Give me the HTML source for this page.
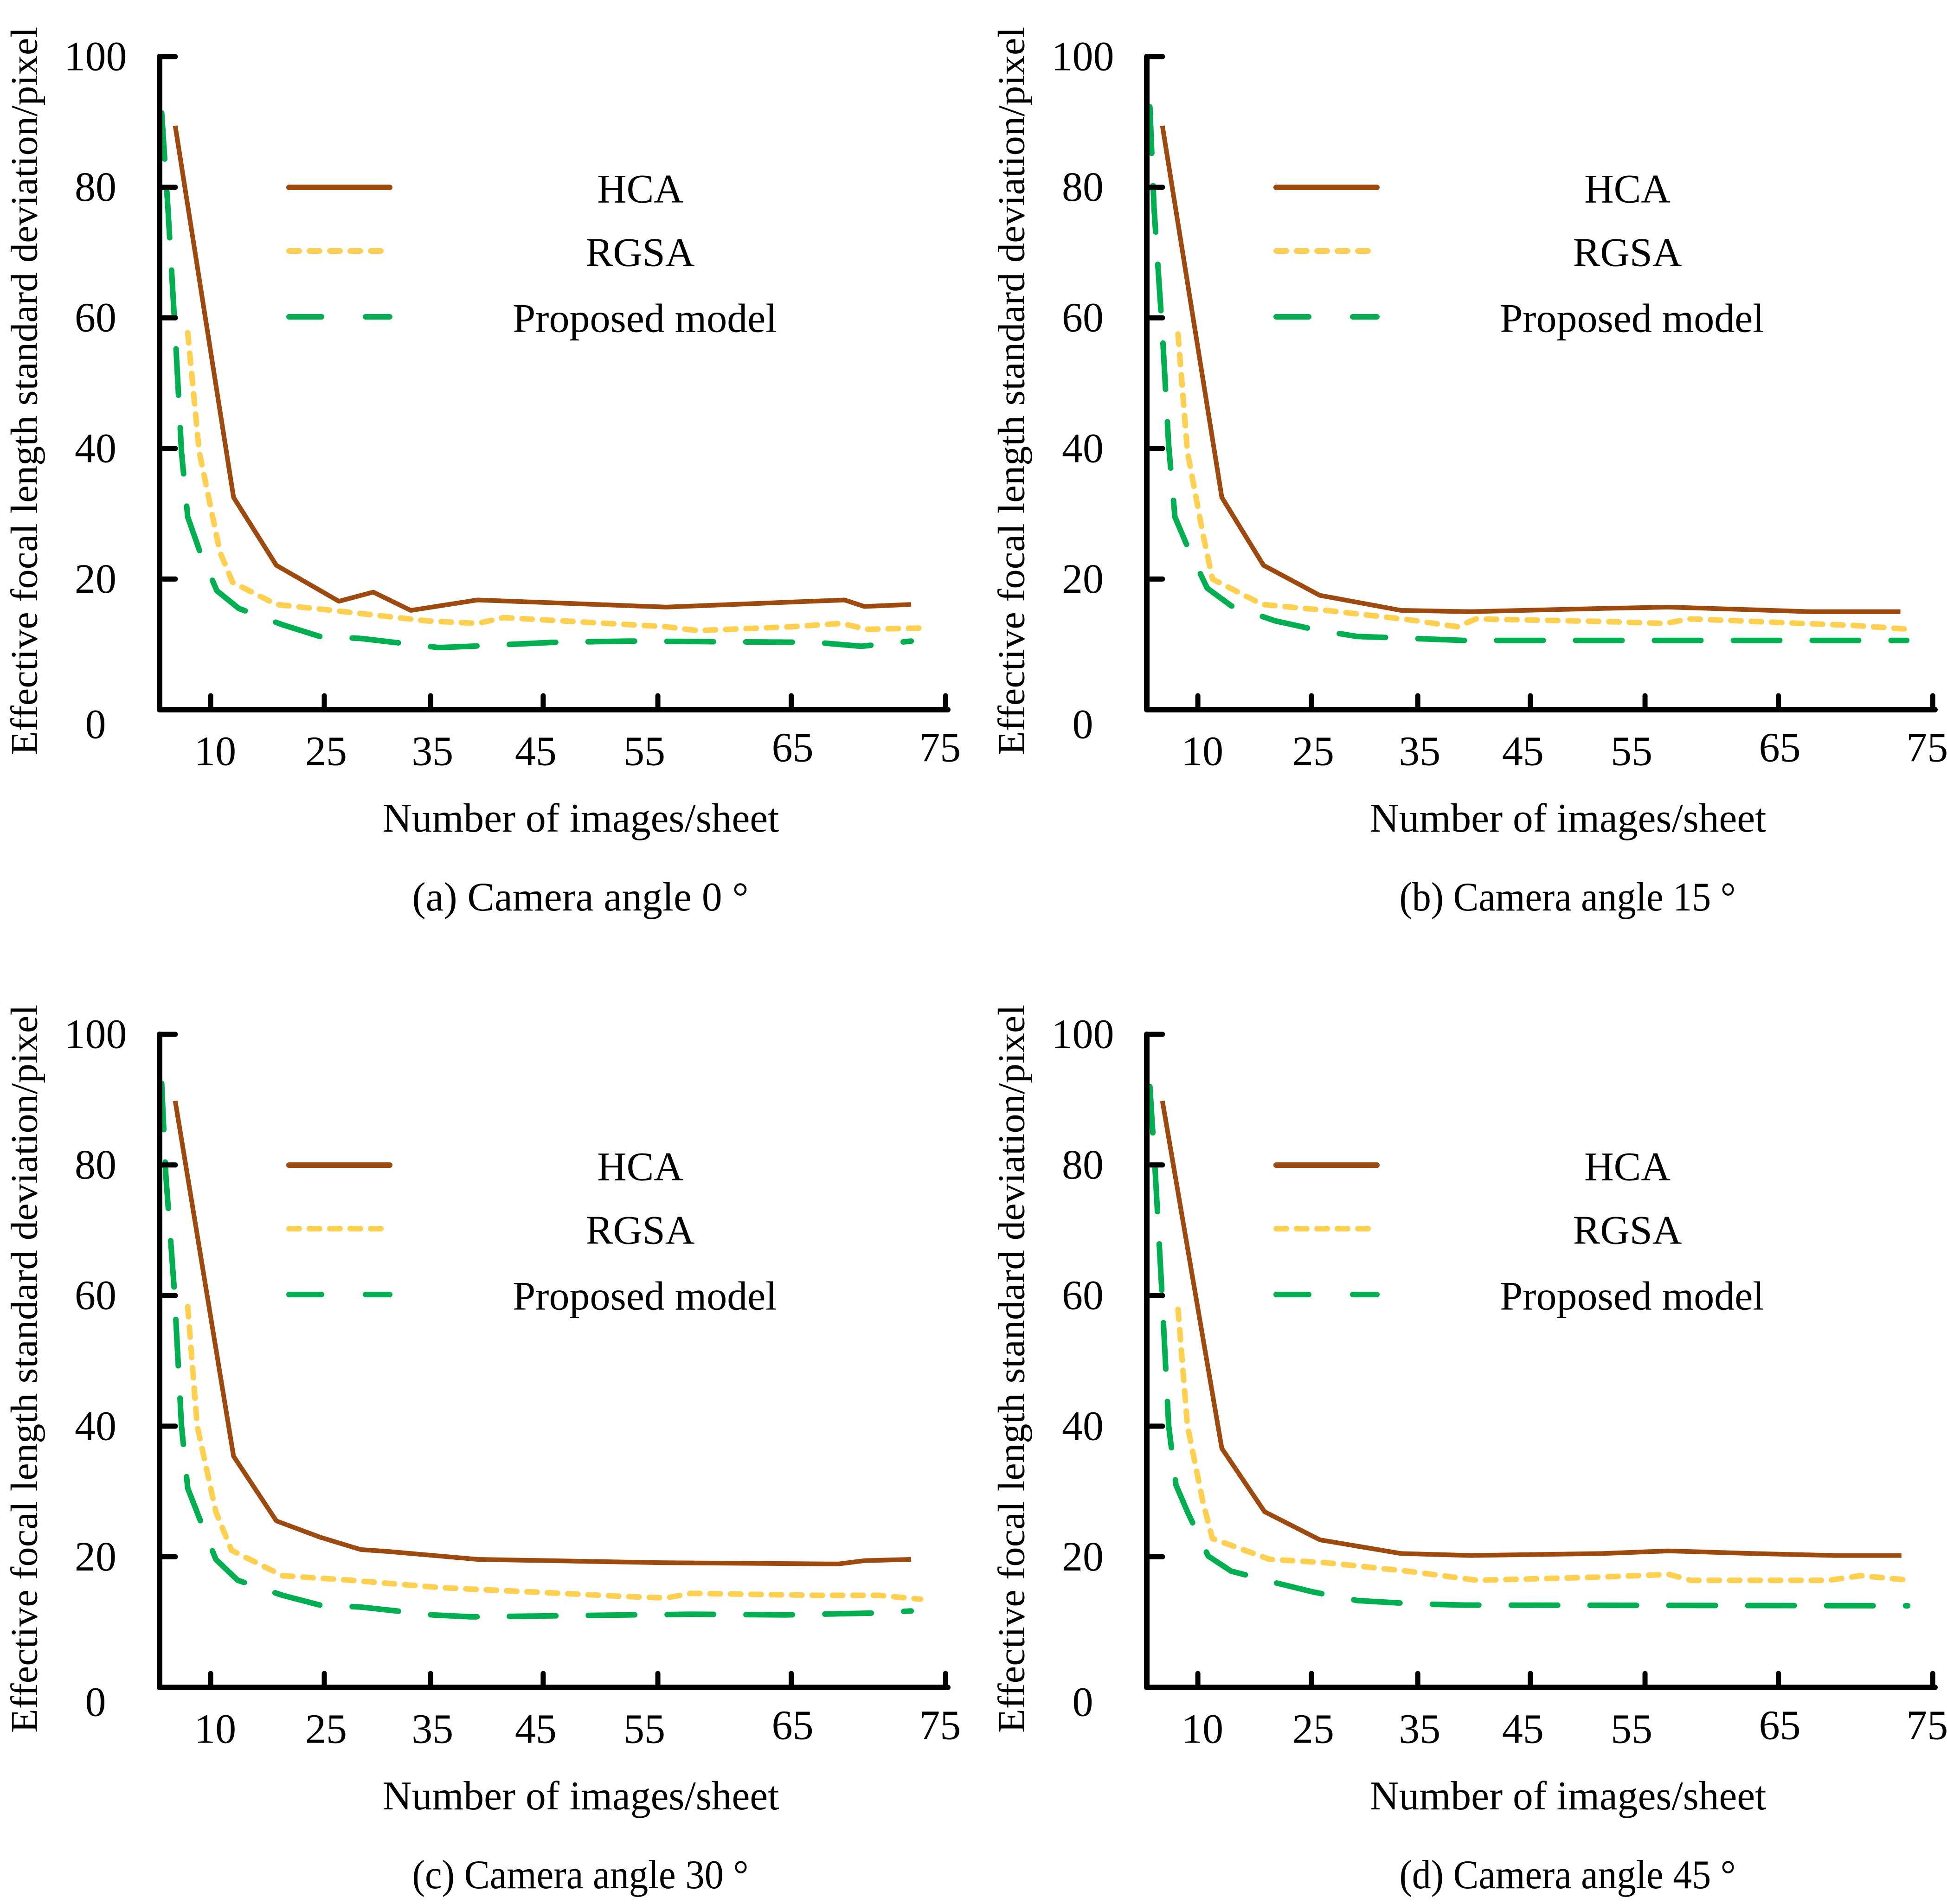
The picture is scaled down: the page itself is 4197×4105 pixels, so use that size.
<!DOCTYPE html>
<html><head><meta charset="utf-8"><style>
html,body{margin:0;padding:0;background:#fff}
svg{display:block}
text{font-family:"Liberation Serif",serif;fill:#000}
</style></head><body>
<svg id="chart" width="4197" height="4105" viewBox="0 0 4197 4105" xmlns="http://www.w3.org/2000/svg"></svg>
<script>
const xTickVals = [4.9, 15.8, 26.0, 36.8, 47.8, 60.6, 75.4];
const xTickLabels = ["10","25","35","45","55","65","75"];
const yTickVals = [0,20,40,60,80,100];
const captions = ["(a) Camera angle 0 °","(b) Camera angle 15 °","(c) Camera angle 30 °","(d) Camera angle 45 °"];
const seriesNames = ["HCA","RGSA","Proposed model"];

const aHcaX=[1.5,7.1,11.2,17.2,20.5,24.1,30.5,48.6,65.7,67.6,72.1];
const aHcaY=[89.4,32.5,22.1,16.6,18,15.2,16.8,15.7,16.8,15.8,16.1];
const aRgsaX=[2.7,3.8,5.8,7.0,11.2,16.6,25.6,30.5,33,48.6,51.6,60.6,65.4,67.9,73];
const aRgsaY=[57.7,39.5,24.1,19.5,16.1,15.2,13.6,13.2,14.1,12.7,12.1,12.7,13.2,12.3,12.5];
const aPropX=[0.2,0.8,1.5,2.1,2.7,3.8,5.5,7.6,11.8,15.4,19.3,26.8,29.8,37.7,44.9,63,67.3,72.1];
const aPropY=[91.4,76.8,57.7,39.5,29.5,24.5,18.2,15.5,13,11.2,10.9,9.5,9.7,10.3,10.5,10.3,9.7,10.5];

const bHcaX=[1.5,7.2,11.2,16.6,24.4,31,43.7,50,58.1,63.6,72.3];
const bHcaY=[89.4,32.5,22.1,17.5,15.2,15,15.5,15.7,15.3,15,15];
const bRgsaX=[3,3.9,5.4,6.3,11.1,17.2,25,29.8,31.6,43.7,49.7,52.1,62.9,67.8,73.2];
const bRgsaY=[57.5,39.5,26.8,20,16.1,15.2,13.8,12.7,13.9,13.5,13.2,13.9,13.2,12.9,12.3];
const bPropX=[0.3,0.7,1.5,2.1,2.7,3.9,5.8,8.1,12.3,16,20.2,25.6,30.4,72.9];
const bPropY=[92.3,76.8,57.7,40.5,29.5,25,18.6,15.9,13.6,12.3,11.2,10.9,10.6,10.6];

const cHcaX=[1.5,7.1,11.2,15.4,19.3,22,30.5,48,65.1,67.6,72.1];
const cHcaY=[89.8,35.4,25.5,23,21.1,20.8,19.6,19.1,18.9,19.4,19.6];
const cRgsaX=[2.7,3.6,5.4,6.9,11.8,18.4,26.8,30.5,35.9,44.9,48.6,51,63,69,73];
const cRgsaY=[58.3,40.1,26.9,21,17.1,16.4,15.3,15,14.6,13.9,13.7,14.4,14.1,14.1,13.5];
const cPropX=[0.2,0.6,1.4,2.1,2.7,3.8,5.4,7.5,11.8,15.4,19.3,26.2,29.9,44.9,51,60,69,72.1];
const cPropY=[92.5,78.4,61.1,40.1,30.5,26,19.6,16.4,14.1,12.6,12.3,11.1,10.8,11.1,11.2,11.1,11.4,11.7];

const dHcaX=[1.5,7.2,11.3,16.6,24.4,31.1,43.7,50.1,58.2,66,72.4];
const dHcaY=[89.8,36.6,26.9,22.6,20.5,20.2,20.5,20.9,20.5,20.2,20.2];
const dRgsaX=[3,3.9,5.4,6.3,11.8,17.2,25,31.7,43.7,50.1,52.2,65.4,68.5,73.3];
const dRgsaY=[57.9,40.1,28.3,22.8,19.6,19.1,17.8,16.4,16.9,17.3,16.4,16.4,17.1,16.4];
const dPropX=[0.3,0.8,1.4,2.1,2.8,3.9,5.9,8.1,12.4,16,20.2,25.6,30.5,73];
const dPropY=[92,79.3,62,40.1,31,26.9,20.1,17.8,16,14.6,13.3,12.8,12.6,12.5];

const panels=[
 {x:aHcaX,y:aHcaY,rx:aRgsaX,ry:aRgsaY,px:aPropX,py:aPropY},
 {x:bHcaX,y:bHcaY,rx:bRgsaX,ry:bRgsaY,px:bPropX,py:bPropY},
 {x:cHcaX,y:cHcaY,rx:cRgsaX,ry:cRgsaY,px:cPropX,py:cPropY},
 {x:dHcaX,y:dHcaY,rx:dRgsaX,ry:dRgsaY,px:dPropX,py:dPropY}
];
const offsets=[[0,0],[2128,0],[0,2108],[2128,2108]];
const letters=["a","b","c","d"];
const svg=document.getElementById('chart');
const NS="http://www.w3.org/2000/svg";
function mk(tag,attrs,parent){const e=document.createElementNS(NS,tag);for(const k in attrs)e.setAttribute(k,attrs[k]);parent.appendChild(e);return e;}
const X0=344,XU=22.47,Y0=1530,YU=14.08,XEND=2043;
function sx(v){return X0+v*XU;}
function sy(v){return Y0-v*YU;}
const colors=["#9E4A0E","#FFD04F","#00B050"];
const dashes=["none","22 22","100 70"];
const labelDx=[10,4,4,-16,-29,3,-12];

panels.forEach((p,i)=>{
  const g=mk('g',{transform:`translate(${offsets[i][0]},${offsets[i][1]})`},svg);
  
  
  const sets=[[p.x,p.y],[p.rx,p.ry],[p.px,p.py]];
  const keys=["hca","rgsa","proposed"];
  sets.forEach((s,k)=>{
    const d=s[0].map((v,j)=>(j?'L':'M')+sx(v).toFixed(1)+','+sy(s[1][j]).toFixed(1)).join(' ');
    const path=mk('path',{d:d,fill:'none',stroke:colors[k],'stroke-width':k===0?10:12,'stroke-linejoin':'round','stroke-linecap':k?'round':'butt','stroke-dasharray':dashes[k]},g);
    
    
  });
  const ax=mk('path',{d:`M${X0},${sy(100)} L${X0},${Y0} L${XEND},${Y0}`,fill:'none',stroke:'#000','stroke-width':12,'stroke-linecap':'round','stroke-linejoin':'round'},g);
  
  
  yTickVals.forEach(v=>{
    if(v>0){const t=mk('line',{x1:X0,x2:X0+34,y1:sy(v),y2:sy(v),stroke:'#000','stroke-width':11,'stroke-linecap':'round'},g);
    
    }
    const tl=mk('text',{x:206,y:sy(v)+(v===0?32:0),'font-size':90,'text-anchor':'middle','dominant-baseline':'central'},g);
    tl.textContent=String(v);
    
    
  });
  xTickVals.forEach((v,j)=>{
    const t=mk('line',{x1:sx(v),x2:sx(v),y1:Y0,y2:Y0-30,stroke:'#000','stroke-width':11,'stroke-linecap':'round'},g);
    
    
    const tl=mk('text',{x:sx(v)+labelDx[j],y:(j>=5?1612:1620),'font-size':90,'text-anchor':'middle','dominant-baseline':'central'},g);
    tl.textContent=xTickLabels[j];
    
    
  });
  const yt=mk('text',{x:0,y:0,'font-size':82,'text-anchor':'middle','dominant-baseline':'central',transform:'translate(52,843) rotate(-90)',textLength:1570,lengthAdjust:'spacingAndGlyphs'},g);
  yt.textContent="Effective focal length standard deviation/pixel";
  
  
  const xt=mk('text',{x:1252,y:1793,'font-size':88,'text-anchor':'middle',textLength:855,lengthAdjust:'spacingAndGlyphs'},g);
  xt.textContent="Number of images/sheet";
  
  
  const cp=mk('text',{x:1251,y:1963,'font-size':88,'text-anchor':'middle',textLength:725,lengthAdjust:'spacingAndGlyphs'},g);
  cp.textContent=captions[i];
  
  
  const ly=[404,541,683];
  const lx=[1380,1380,1390];
  seriesNames.forEach((n,k)=>{
    const ll=mk('line',{x1:623,x2:840,y1:ly[k],y2:ly[k],stroke:colors[k],'stroke-width':12,'stroke-linecap':'round','stroke-dasharray':k===0?'none':(k===1?'22 22':'70 95')},g);
    
    
    const lt=mk('text',{x:lx[k],y:ly[k]+4,'font-size':88,'text-anchor':'middle','dominant-baseline':'central'},g);
    lt.textContent=n;
    
    
  });
});
</script>
</body></html>
